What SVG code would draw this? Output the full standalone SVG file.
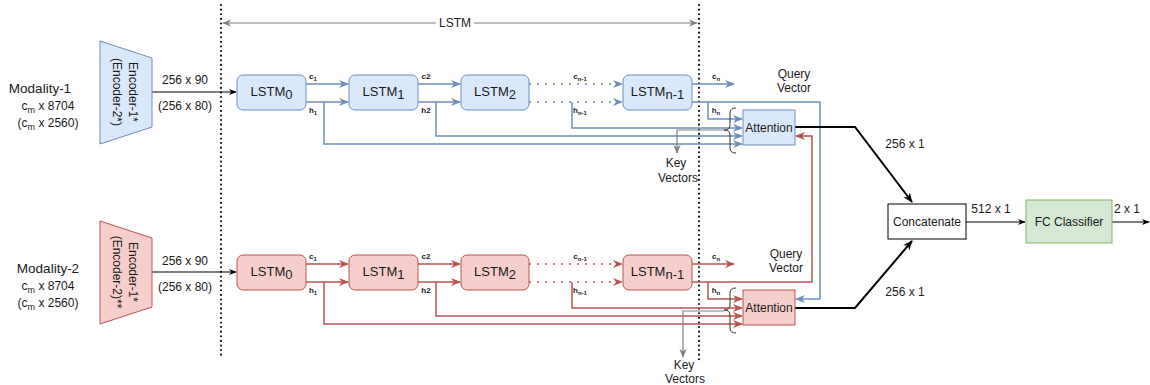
<svg xmlns="http://www.w3.org/2000/svg" width="1150" height="385" viewBox="0 0 1150 385">
<style>
text{font-family:"Liberation Sans",Arial,sans-serif;fill:#1a1a1a}
.t12{font-size:12px;text-anchor:middle}
.t13{font-size:13.5px;text-anchor:middle}
.lst{font-size:13px;text-anchor:middle}
.sm{font-size:8px;font-weight:bold;text-anchor:middle}
.blue{fill:#dae8fc;stroke:#6c8ebf;stroke-width:1}
.red{fill:#f8cecc;stroke:#b85450;stroke-width:1}
.cb{fill:none;stroke:#6c8ebf;stroke-width:1.5}
.cr{fill:none;stroke:#b85450;stroke-width:1.5}
.dotb{fill:none;stroke:#6c8ebf;stroke-width:1.5;stroke-dasharray:2 6}
.dotr{fill:none;stroke:#b85450;stroke-width:1.5;stroke-dasharray:2 6}
.blk{fill:none;stroke:#000;stroke-width:2}
.thin{fill:none;stroke:#000;stroke-width:1}
.gry{fill:none;stroke:#808080;stroke-width:1.2}
.brace{fill:none;stroke:#333;stroke-width:1}
.vdot{fill:none;stroke:#000;stroke-width:2;stroke-dasharray:0.1 4.5;stroke-linecap:round}
</style>
<defs>
<marker id="ab" viewBox="0 0 10 10" refX="9" refY="5" markerUnits="userSpaceOnUse" markerWidth="10" markerHeight="10" orient="auto"><path d="M0,1 L10,5 L0,9 L3,5 z" fill="#6c8ebf"/></marker>
<marker id="ar" viewBox="0 0 10 10" refX="9" refY="5" markerUnits="userSpaceOnUse" markerWidth="10" markerHeight="10" orient="auto"><path d="M0,1 L10,5 L0,9 L3,5 z" fill="#b85450"/></marker>
<marker id="ak" viewBox="0 0 10 10" refX="9" refY="5" markerUnits="userSpaceOnUse" markerWidth="10" markerHeight="10" orient="auto"><path d="M0,1 L10,5 L0,9 L3,5 z" fill="#000"/></marker>
<marker id="akt" viewBox="0 0 10 10" refX="9" refY="5" markerUnits="userSpaceOnUse" markerWidth="8" markerHeight="8" orient="auto"><path d="M0,1 L10,5 L0,9 L3,5 z" fill="#000"/></marker>
<marker id="ag" viewBox="0 0 10 10" refX="9" refY="5" markerUnits="userSpaceOnUse" markerWidth="9" markerHeight="9" orient="auto-start-reverse"><path d="M0,1 L10,5 L0,9 L3,5 z" fill="#808080"/></marker>
</defs>
<rect width="1150" height="385" fill="#fff"/>

<g id="separators">
<path class="vdot" d="M221,5 V358"/>
<path class="vdot" d="M699,5 V360"/>
</g>

<g id="connectors">
<path class="gry" d="M223,23 H697" marker-start="url(#ag)" marker-end="url(#ag)"/>
<path class="thin" d="M152,92 H236" marker-end="url(#akt)"/>
<path class="cb" d="M306,84 H348" marker-end="url(#ab)"/>
<path class="cb" d="M306,102 H348" marker-end="url(#ab)"/>
<path class="cb" d="M418,84 H460" marker-end="url(#ab)"/>
<path class="cb" d="M418,102 H460" marker-end="url(#ab)"/>
<path class="dotb" d="M529,84 H622" marker-end="url(#ab)"/>
<path class="dotb" d="M529,102 H622" marker-end="url(#ab)"/>
<path class="cb" d="M692,84 H734" marker-end="url(#ab)"/>
<path class="cb" d="M324,102 V144 H742" marker-end="url(#ab)"/>
<path class="cb" d="M436,102 V136 H742" marker-end="url(#ab)"/>
<path class="cb" d="M572,102 V128 H742" marker-end="url(#ab)"/>
<path class="cb" d="M708,102 V119 H742" marker-end="url(#ab)"/>
<path class="cb" d="M692,102 H820 V299 H796" marker-end="url(#ab)"/>
<path class="thin" d="M152,272 H236" marker-end="url(#akt)"/>
<path class="cr" d="M306,264 H348" marker-end="url(#ar)"/>
<path class="cr" d="M306,282 H348" marker-end="url(#ar)"/>
<path class="cr" d="M418,264 H460" marker-end="url(#ar)"/>
<path class="cr" d="M418,282 H460" marker-end="url(#ar)"/>
<path class="dotr" d="M529,264 H622" marker-end="url(#ar)"/>
<path class="dotr" d="M529,282 H622" marker-end="url(#ar)"/>
<path class="cr" d="M692,264 H734" marker-end="url(#ar)"/>
<path class="cr" d="M324,282 V324 H742" marker-end="url(#ar)"/>
<path class="cr" d="M436,282 V316 H742" marker-end="url(#ar)"/>
<path class="cr" d="M572,282 V308 H742" marker-end="url(#ar)"/>
<path class="cr" d="M708,282 V299 H742" marker-end="url(#ar)"/>
<path class="cr" d="M692,282 H812 V136 H796" marker-end="url(#ar)"/>
<path class="brace" d="M736,108 Q730,108 730,113 L730,125 Q730,130 724,130 Q730,130 730,135 L730,148 Q730,153 736,153"/>
<path class="brace" d="M736,288 Q730,288 730,293 L730,305 Q730,310 724,310 Q730,310 730,315 L730,328 Q730,333 736,333"/>
<path class="gry" d="M724,130 H677 V153" marker-end="url(#ag)"/>
<path class="gry" d="M724,311 H683 V357" marker-end="url(#ag)"/>
<path class="blk" d="M795,127 H855 L912,202" marker-end="url(#ak)"/>
<path class="blk" d="M795,308 H855 L912,241" marker-end="url(#ak)"/>
<path class="thin" d="M966,222 H1025" marker-end="url(#akt)"/>
<path class="thin" d="M1112,222 H1149" marker-end="url(#akt)"/>
</g>

<g id="lstm-span-label">
<rect x="436" y="15" width="38" height="16" fill="#fff"/>
<text class="t12" x="455" y="27">LSTM</text>
</g>

<g id="modality1">
<text class="t13" x="40" y="93">Modality-1</text>
<text class="t12" x="48" y="110">c<tspan font-size="9" dy="3">m</tspan><tspan dy="-3"> x 8704</tspan></text>
<text class="t12" x="48" y="127">(c<tspan font-size="9" dy="3">m</tspan><tspan dy="-3"> x 2560)</tspan></text>
</g>
<g id="modality2">
<text class="t13" x="48" y="273">Modality-2</text>
<text class="t12" x="48" y="290">c<tspan font-size="9" dy="3">m</tspan><tspan dy="-3"> x 8704</tspan></text>
<text class="t12" x="48" y="307">(c<tspan font-size="9" dy="3">m</tspan><tspan dy="-3"> x 2560)</tspan></text>
</g>

<g id="encoder1">
<polygon class="blue" points="100,41 152,58 152,127 100,144"/>
<text class="t12" transform="translate(129,92) rotate(90)">Encoder-1*</text>
<text class="t12" transform="translate(113,92) rotate(90)">(Encoder-2*)</text>
</g>
<g id="encoder2">
<polygon class="red" points="100,221 152,238 152,307 100,324"/>
<text class="t12" transform="translate(129,272) rotate(90)">Encoder-1*</text>
<text class="t12" transform="translate(113,272) rotate(90)">(Encoder-2)**</text>
</g>

<g id="dims">
<text class="t12" x="185" y="84">256 x 90</text>
<text class="t12" x="185" y="110">(256 x 80)</text>
<text class="t12" x="185" y="265">256 x 90</text>
<text class="t12" x="185" y="291">(256 x 80)</text>
</g>

<g id="lstm0-top"><rect class="blue" x="237" y="75" width="69" height="35" rx="6"/><text class="lst" x="271.5" y="96">LSTM<tspan dy="3">0</tspan></text></g>
<g id="lstm1-top"><rect class="blue" x="349" y="75" width="69" height="35" rx="6"/><text class="lst" x="383.5" y="96">LSTM<tspan dy="3">1</tspan></text></g>
<g id="lstm2-top"><rect class="blue" x="461" y="75" width="68" height="35" rx="6"/><text class="lst" x="495" y="96">LSTM<tspan dy="3">2</tspan></text></g>
<g id="lstmn-top"><rect class="blue" x="623" y="75" width="69" height="35" rx="6"/><text class="lst" x="657.5" y="96">LSTM<tspan dy="3">n-1</tspan></text></g>
<g id="attention-top"><rect class="blue" x="743" y="110" width="52" height="35"/><text class="t12" x="769" y="132">Attention</text></g>

<g id="lstm0-bot"><rect class="red" x="237" y="255" width="69" height="35" rx="6"/><text class="lst" x="271.5" y="276">LSTM<tspan dy="3">0</tspan></text></g>
<g id="lstm1-bot"><rect class="red" x="349" y="255" width="69" height="35" rx="6"/><text class="lst" x="383.5" y="276">LSTM<tspan dy="3">1</tspan></text></g>
<g id="lstm2-bot"><rect class="red" x="461" y="255" width="68" height="35" rx="6"/><text class="lst" x="495" y="276">LSTM<tspan dy="3">2</tspan></text></g>
<g id="lstmn-bot"><rect class="red" x="623" y="255" width="69" height="35" rx="6"/><text class="lst" x="657.5" y="276">LSTM<tspan dy="3">n-1</tspan></text></g>
<g id="attention-bot"><rect class="red" x="743" y="290" width="52" height="35"/><text class="t12" x="769" y="312">Attention</text></g>

<g id="concatenate"><rect x="888" y="204" width="78" height="35" fill="#fff" stroke="#000" stroke-width="1"/><text class="t12" x="927" y="226">Concatenate</text></g>
<g id="fc-classifier"><rect x="1026" y="200" width="86" height="43" fill="#d5e8d4" stroke="#82b366" stroke-width="1"/><text class="t12" x="1069" y="226">FC Classifier</text></g>

<g id="state-labels">
<text class="sm" x="313" y="79">c<tspan font-size="6" dy="2">1</tspan></text>
<text class="sm" x="313" y="113">h<tspan font-size="6" dy="2">1</tspan></text>
<text class="sm" x="426" y="79">c2</text>
<text class="sm" x="426" y="113">h2</text>
<text class="sm" x="580" y="79">c<tspan font-size="6" dy="2">n-1</tspan></text>
<text class="sm" x="580" y="113">h<tspan font-size="6" dy="2">n-1</tspan></text>
<text class="sm" x="716" y="79">c<tspan font-size="6" dy="2">n</tspan></text>
<text class="sm" x="716" y="113">h<tspan font-size="6" dy="2">n</tspan></text>
<text class="sm" x="313" y="259">c<tspan font-size="6" dy="2">1</tspan></text>
<text class="sm" x="313" y="293">h<tspan font-size="6" dy="2">1</tspan></text>
<text class="sm" x="426" y="259">c2</text>
<text class="sm" x="426" y="293">h2</text>
<text class="sm" x="580" y="259">c<tspan font-size="6" dy="2">n-1</tspan></text>
<text class="sm" x="580" y="293">h<tspan font-size="6" dy="2">n-1</tspan></text>
<text class="sm" x="716" y="259">c<tspan font-size="6" dy="2">n</tspan></text>
<text class="sm" x="716" y="293">h<tspan font-size="6" dy="2">n</tspan></text>
</g>

<g id="vector-labels">
<text class="t12" x="794" y="78">Query</text>
<text class="t12" x="794" y="92">Vector</text>
<text class="t12" x="786" y="258">Query</text>
<text class="t12" x="786" y="272">Vector</text>
<text class="t12" x="676" y="167">Key</text>
<text class="t12" x="678" y="182">Vectors</text>
<text class="t12" x="684" y="369">Key</text>
<text class="t12" x="685" y="383">Vectors</text>
</g>

<g id="output-dims">
<text class="t12" x="905" y="148">256 x 1</text>
<text class="t12" x="905" y="296">256 x 1</text>
<text class="t12" x="991" y="213">512 x 1</text>
<text class="t12" x="1127" y="213">2 x 1</text>
</g>
</svg>
